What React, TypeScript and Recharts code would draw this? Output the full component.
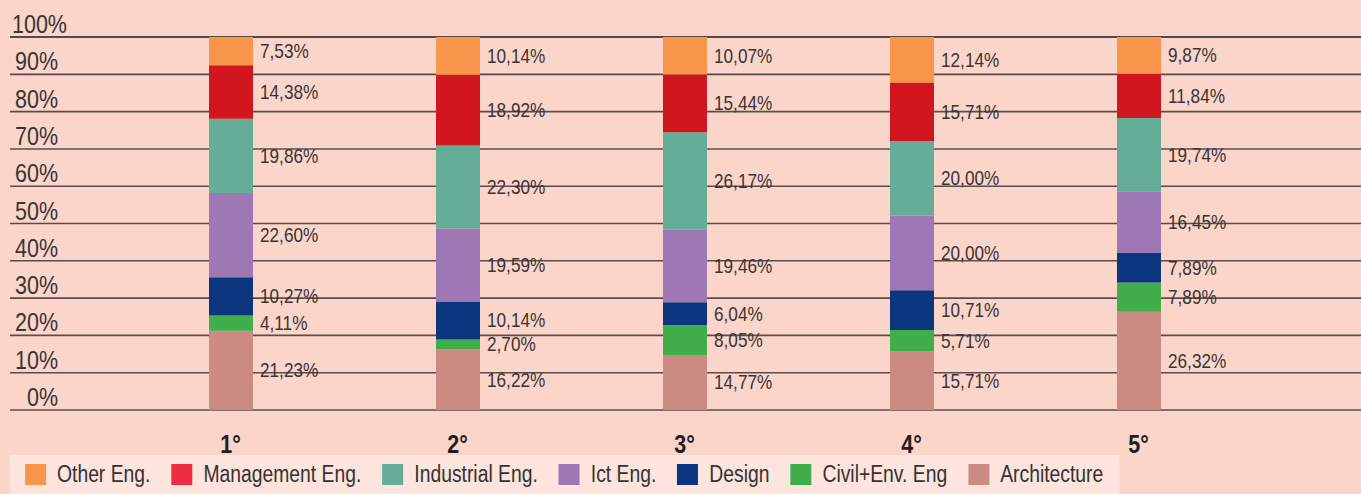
import {BarChart, Bar, XAxis, YAxis, CartesianGrid, Legend, LabelList} from "recharts";

const years = ["1°", "2°", "3°", "4°", "5°"];

const architecture = [21.23, 16.22, 14.77, 15.71, 26.32];
const civilEnv = [4.11, 2.70, 8.05, 5.71, 7.89];
const design = [10.27, 10.14, 6.04, 10.71, 7.89];
const ictEng = [22.60, 19.59, 19.46, 20.00, 16.45];
const industrialEng = [19.86, 22.30, 26.17, 20.00, 19.74];
const managementEng = [14.38, 18.92, 15.44, 15.71, 11.84];
const otherEng = [7.53, 10.14, 10.07, 12.14, 9.87];

const yTicks = [0, 10, 20, 30, 40, 50, 60, 70, 80, 90, 100];

// stacking order, bottom first
const series = [
    {key: "architecture", name: "Architecture", color: "#cc8b82", legend: "#cc8b82", values: architecture},
    {key: "civilEnv", name: "Civil+Env. Eng", color: "#40ae4a", legend: "#40ae4a", values: civilEnv},
    {key: "design", name: "Design", color: "#0b357c", legend: "#0b357c", values: design},
    {key: "ictEng", name: "Ict Eng.", color: "#9d78b5", legend: "#9d78b5", values: ictEng},
    {key: "industrialEng", name: "Industrial Eng.", color: "#64ae98", legend: "#64ae98", values: industrialEng},
    {key: "managementEng", name: "Management Eng.", color: "#d2161f", legend: "#ee2e40", values: managementEng},
    {key: "otherEng", name: "Other Eng.", color: "#f8954a", legend: "#f8954a", values: otherEng},
];

const data = years.map((year, i) => {
    const row: Record<string, any> = {year};
    series.forEach(s => row[s.key] = s.values[i]);
    return row;
});

// no condensed Helvetica around, so squeeze Liberation Sans horizontally
const FONT = "'Liberation Sans', Arial, sans-serif";
const SQUEEZE = 0.86;
const LEGEND_SQUEEZE = 0.84;

const pct = (v: number) => v.toFixed(2).replace(".", ",") + "%";

const SideLabel = (props: any) => {
    const {x, y, width, height, value} = props;
    return <text transform={`translate(${x + width + 7},${y + height / 2}) scale(${SQUEEZE},1)`}
                 dominantBaseline="central" fontFamily={FONT} fontSize={20} fill="#3a3434">{pct(value)}</text>;
};

const YTick = (props: any) => {
    const {y, payload} = props;
    const v = payload.value;
    const x = v === 100 ? 12 : 58;
    return <text transform={`translate(${x},${y - 4}) scale(${SQUEEZE},1)`} textAnchor={v === 100 ? "start" : "end"}
                 fontFamily={FONT} fontSize={25} fill="#3a3434">{v + "%"}</text>;
};

const XTick = (props: any) => {
    const {x, y, payload} = props;
    return <text transform={`translate(${x},${y + 26}) scale(${SQUEEZE},1)`} textAnchor="middle"
                 dominantBaseline="central" fontFamily={FONT} fontSize={25} fontWeight="bold"
                 fill="#231f20">{payload.value}</text>;
};

const LegendBox = () => {
    const k = LEGEND_SQUEEZE;
    return <div style={{marginLeft: 10, width: 1109, height: 39, background: "#fde4dc", overflow: "hidden"}}>
        <div style={{
            display: "flex", alignItems: "center", height: 39, whiteSpace: "nowrap",
            fontFamily: FONT, fontSize: 23, color: "#333",
            transform: `scaleX(${k})`, transformOrigin: "left center",
            paddingLeft: 15 / k, width: 1400
        }}>
            {[...series].reverse().map(s => (
                <div key={s.key} style={{display: "flex", alignItems: "center", marginRight: 21 / k}}>
                    <span style={{
                        display: "inline-block", width: 21 / k, height: 21,
                        background: s.legend, marginRight: 11 / k
                    }}/>
                    <span>{s.name}</span>
                </div>
            ))}
        </div>
    </div>;
};

export default function App() {
    return <div style={{position: "absolute", left: 0, top: 0, width: 1361, height: 494, background: "#fbd5ca"}}>
        <BarChart width={1361} height={494} data={data} margin={{top: 37, right: 0, bottom: 0, left: 0}}
                  barSize={44}>
            <CartesianGrid vertical={false} stroke="#3c3434" strokeWidth={1.6} strokeOpacity={0.85}/>
            <XAxis dataKey="year" axisLine={false} tickLine={false} height={45}
                   padding={{left: 107, right: 109}} tick={<XTick/>} interval={0}/>
            <YAxis domain={[0, 100]} ticks={yTicks} width={10} axisLine={false} tickLine={false}
                   tick={<YTick/>} interval={0}/>
            {series.map(s => (
                <Bar key={s.key} dataKey={s.key} name={s.name} stackId="a" fill={s.color}
                     isAnimationActive={false}>
                    <LabelList dataKey={s.key} content={<SideLabel/>}/>
                </Bar>
            ))}
            <Legend verticalAlign="bottom" height={39} content={<LegendBox/>}
                    wrapperStyle={{left: 0, bottom: 0, width: 1361}}/>
        </BarChart>
    </div>;
}
